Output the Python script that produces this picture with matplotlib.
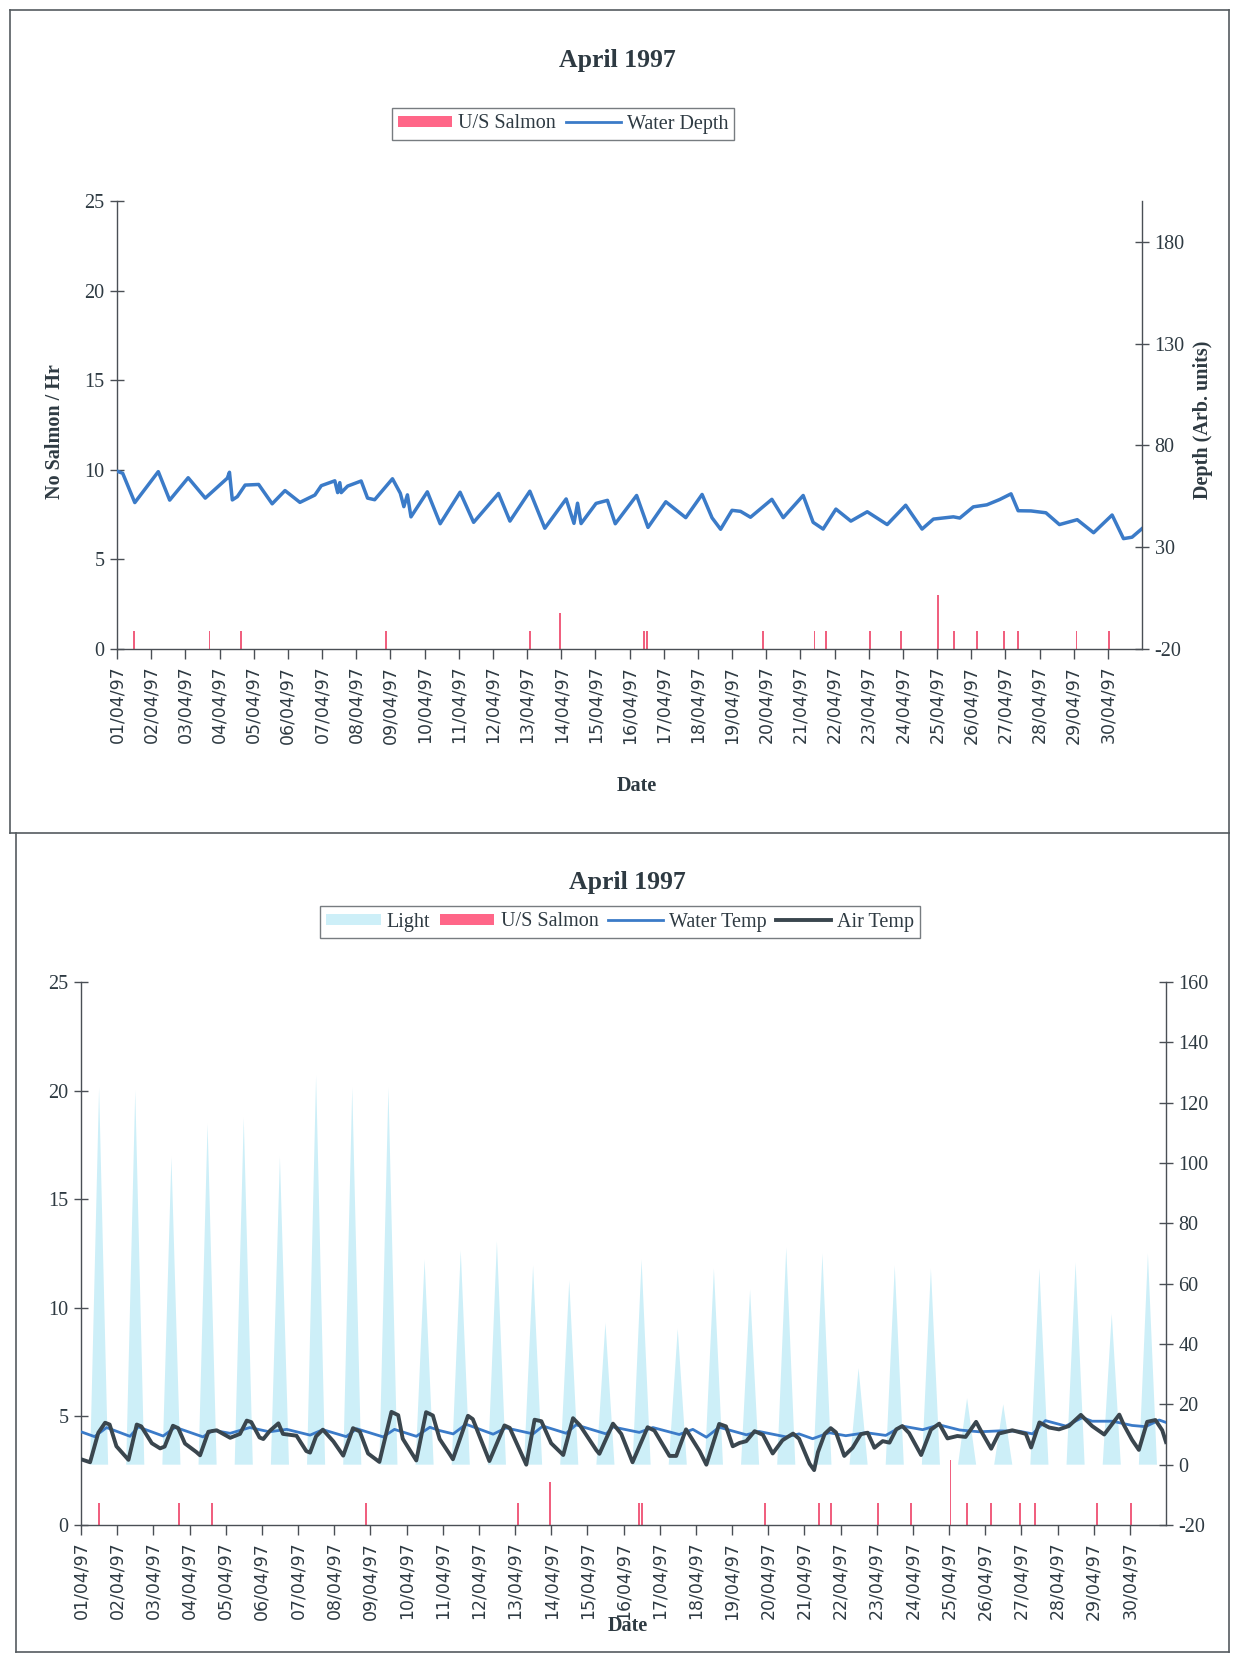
import matplotlib.pyplot as plt
from matplotlib.patches import Patch
from matplotlib.lines import Line2D

plt.rcParams['font.family'] = ['Liberation Serif', 'DejaVu Serif']
plt.rcParams['axes.unicode_minus'] = False

#   Data (hours from 01/04/97 00:00)
DATES = ['%02d/04/97' % d for d in range(1, 31)]

SALMON_HOURS = [12, 65, 87, 189, 290, 311, 370, 372, 454, 490,
                498, 529, 551, 577, 588, 604, 623, 633, 674, 697]
SALMON_COUNT = [1, 1, 1, 1, 1, 2, 1, 1, 1, 1,
                1, 1, 1, 3, 1, 1, 1, 1, 1, 1]

DEPTH_HOURS = [0, 4, 12.5, 29, 37, 50, 62, 77.5, 79, 81, 84.5, 90, 99.5, 109, 118,
               128.5, 139, 143.5, 153, 155, 156.5, 157.5, 162, 171.5, 176, 181,
               193.5, 199, 201.5, 204, 206.5, 218, 227, 241, 250.5, 268, 276, 290,
               300.5, 315.5, 321, 323.5, 326, 336.5, 344.5, 350, 357, 365, 373,
               385.5, 399.5, 411, 418, 424, 432, 438, 445, 460, 468, 482, 489, 496,
               505, 515.5, 527, 541, 554, 565.5, 573.5, 587.5, 592, 601.5, 611,
               620, 628, 633, 642, 652.5, 662, 674.5, 686, 699, 707, 713, 720]
DEPTH = [67.3, 66.3, 51.9, 67.1, 53.1, 64.1, 54.1, 63.9, 66.8, 53.2, 54.8, 60.5,
         60.8, 51.3, 57.8, 52.0, 55.6, 60.2, 62.6, 56.8, 61.7, 56.8, 60.0, 62.5,
         54.1, 53.3, 63.6, 56.5, 49.9, 55.7, 44.9, 57.2, 41.5, 57.0, 42.2, 56.4,
         42.8, 57.5, 39.3, 53.7, 41.7, 51.6, 41.6, 51.5, 53.0, 41.5, 48.0, 55.4,
         39.7, 52.3, 44.5, 55.9, 44.4, 38.8, 48.1, 47.6, 44.7, 53.5, 44.5, 55.4,
         42.2, 38.9, 48.7, 42.8, 47.4, 41.1, 50.6, 38.9, 43.8, 44.9, 44.3, 49.8,
         50.8, 53.4, 56.2, 47.9, 47.8, 46.9, 41.1, 43.5, 37.1, 45.8, 34.2, 34.9,
         39.1]

LIGHT_PEAK = [125, 124, 102, 113, 115, 102, 129, 125, 125, 68,
              71, 74, 66, 61, 47, 68, 45, 65, 58, 72,
              70, 32, 66, 65, 22, 20, 65, 67, 50, 70]
LIGHT_DAWN = 6
LIGHT_NOON = 12
LIGHT_DUSK = 18

AIR_HOURS = [0, 6, 11.5, 16, 19, 23.5, 31.5, 37, 40, 47, 52.5, 55.5, 61, 64.5, 69,
             76.5, 79, 84.5, 90, 99, 105.5, 110, 113, 118.5, 121, 125.5, 131, 134,
             143, 149.5, 152, 156, 160.5, 167.5, 174, 180.5, 185, 190.5, 198, 206,
             210.5, 213.5, 222.5, 229, 233.5, 238, 244.5, 246.8, 256.8, 260, 271,
             281, 284.5, 295.5, 301, 305.5, 312, 320, 326.5, 331, 342, 344, 353,
             358.5, 366, 376, 380.5, 390.5, 395, 401.5, 410.5, 415, 423.5, 428,
             432.5, 437, 441.5, 447, 452.5, 459, 465.5, 472.5, 476.5, 483.5,
             486.5, 489, 493.5, 497.5, 501, 506.5, 512, 517.5, 522, 526.5, 532,
             536.5, 541, 545, 549.5, 557.5, 564, 569.5, 575, 581.5, 587, 594, 597,
             604, 609, 618, 627, 630.5, 636, 642.5, 649, 655.5, 663.5, 671, 679,
             689, 692, 697.5, 702, 707.5, 713, 717.5, 720]
AIR_TEMP = [1.8, 0.8, 10.6, 13.9, 13.3, 6.1, 1.6, 13.3, 12.7, 7.1, 5.4, 6.0, 12.9,
            12.1, 7.0, 4.2, 3.1, 10.9, 11.4, 8.9, 10.2, 14.6, 14.1, 9.0, 8.5, 11.3,
            13.7, 10.2, 9.6, 4.5, 4.0, 9.4, 11.6, 7.7, 3.0, 12.1, 11.0, 3.7, 0.9,
            17.5, 16.4, 8.6, 1.4, 17.4, 16.3, 8.5, 3.6, 1.8, 16.2, 15.1, 1.2, 13.0,
            12.2, 0.0, 14.9, 14.4, 7.1, 3.2, 15.4, 13.1, 4.8, 3.6, 13.6, 10.2, 0.8,
            12.4, 11.3, 2.9, 2.9, 11.7, 4.5, 0.0, 13.5, 12.7, 6.1, 7.2, 7.8, 11.1,
            9.9, 3.7, 8.1, 10.3, 8.6, 0.3, -1.8, 4.1, 10.2, 12.1, 10.7, 2.9, 5.6,
            10.1, 10.6, 5.6, 7.8, 7.3, 11.7, 12.8, 10.5, 3.2, 11.6, 13.6, 8.7, 9.5,
            9.2, 14.2, 11.4, 5.3, 10.3, 11.4, 10.2, 5.7, 14.0, 12.3, 11.7, 12.8,
            16.5, 12.8, 10.0, 16.6, 13.2, 8.2, 4.9, 14.2, 14.8, 11.4, 7.5]

WATER_HOURS = [0, 9, 17, 32.5, 38, 54.5, 62.5, 81, 87.5, 99, 112, 125, 136.5, 152,
               160.5, 176, 183, 200.5, 208, 222.5, 231.5, 238, 247, 255.5, 273.5,
               282, 300, 306.5, 322, 328.5, 348.5, 353, 370.5, 379.5, 397, 406, 415,
               423.5, 441.5, 450, 468, 476.5, 485.5, 496.5, 507.5, 521, 534, 545,
               558.5, 569.5, 583, 596, 609.5, 622.5, 631.5, 640, 653.5, 664.5, 671,
               684.5, 697.5, 706.5, 715.5, 720]
WATER_TEMP = [10.9, 9.3, 12.3, 9.4, 12.5, 9.5, 12.4, 9.2, 11.4, 10.4, 12.3, 10.9,
              11.7, 9.8, 11.6, 9.3, 11.9, 9.2, 11.7, 9.4, 12.4, 11.3, 10.2, 13.4,
              10.1, 12.2, 10.2, 12.8, 10.4, 13.2, 10.2, 12.5, 10.7, 12.3, 10.0, 11.7,
              9.1, 12.4, 9.9, 11.0, 9.2, 10.2, 8.6, 10.6, 9.6, 10.6, 9.7, 12.8, 11.6,
              13.2, 11.5, 10.9, 11.2, 11.1, 10.2, 14.6, 12.8, 15.6, 14.4, 14.4, 13.0,
              12.6, 14.8, 14.0]

#   Styles
W, H = 1233, 1654
TXT = '#2e3a42'
AX_C = '#4a4f55'
SALMON_C = '#f0607f'
LEGEND_SALMON_C = '#ff6688'
LIGHT_C = '#cdeff8'
BLUE_C = '#3b7bc8'
AIR_C = '#3a464e'
FS = 14.5


def fx(x):
    return x / W


def fy(y):
    return 1 - y / H


def frame_line(x0, y0, x1, y1):
    fig.add_artist(Line2D([fx(x0), fx(x1)], [fy(y0), fy(y1)],
                          transform=fig.transFigure, color='#555b60', lw=1.2))


def style_axes(ax, ax2):
    ax.set_xlim(0, 720)
    ax.set_ylim(0, 25)
    ax.set_yticks(range(0, 26, 5))
    ax.set_xticks(range(0, 720, 24))
    ax.set_xticklabels(DATES, rotation=90, family='DejaVu Sans',
                       fontsize=12.5, color=TXT)
    ax.spines['top'].set_visible(False)
    ax.spines['right'].set_visible(False)
    ax2.spines['top'].set_visible(False)
    ax2.spines['left'].set_visible(False)
    ax2.spines['bottom'].set_visible(False)
    for a in (ax, ax2):
        for s in a.spines.values():
            s.set_color(AX_C)
            s.set_linewidth(1.0)
    ax.tick_params(axis='y', direction='inout', length=10, width=1,
                   color=AX_C, labelsize=FS, labelcolor=TXT, pad=4)
    ax2.tick_params(axis='y', direction='inout', length=10, width=1,
                    color=AX_C, labelsize=FS, labelcolor=TXT, pad=4)
    ax.tick_params(axis='x', direction='out', length=7, width=1,
                   color=AX_C, pad=5)
    ax.patch.set_alpha(0)


fig = plt.figure(figsize=(W / 100, H / 100), dpi=100)

# frames
frame_line(10, 10, 1229, 10)
frame_line(10, 10, 10, 833)
frame_line(1229, 10, 1229, 833)
frame_line(10, 833, 1229, 833)
frame_line(16, 833, 16, 1652)
frame_line(1229, 833, 1229, 1652)
frame_line(16, 1652, 1229, 1652)

# ---- Top chart: salmon + water depth
ax = fig.add_axes([fx(117), fy(649), fx(1142) - fx(117), fy(201) - fy(649)])
ax2 = ax.twinx()
ax.bar(SALMON_HOURS, SALMON_COUNT, width=1.3, color=SALMON_C, lw=0)
ax2.plot(DEPTH_HOURS, DEPTH, color=BLUE_C, lw=2.5, solid_joinstyle='round')
style_axes(ax, ax2)
ax2.set_ylim(-20, 200)
ax2.set_yticks([-20, 30, 80, 130, 180])

fig.text(fx(617), fy(60), 'April 1997', ha='center', va='center',
         fontsize=18.5, fontweight='bold', color=TXT)
fig.text(fx(55), fy(432), 'No Salmon / Hr', rotation=90, ha='center',
         va='center', fontsize=FS, fontweight='bold', color=TXT)
fig.text(fx(1203), fy(420), 'Depth (Arb. units)', rotation=90, ha='center',
         va='center', fontsize=FS, fontweight='bold', color=TXT)
fig.text(fx(637), fy(786), 'Date', ha='center', va='center',
         fontsize=FS, fontweight='bold', color=TXT)

h1 = [Patch(facecolor=LEGEND_SALMON_C, edgecolor='none'),
      Line2D([], [], color=BLUE_C, lw=2)]
leg = fig.legend(h1, ['U/S Salmon', 'Water Depth'], loc='center',
                 bbox_to_anchor=(fx(563), fy(124)), ncol=2, fontsize=FS,
                 frameon=True, fancybox=False, edgecolor='#555b60',
                 handlelength=2.7, handleheight=0.45, handletextpad=0.3,
                 columnspacing=0.5, borderpad=0.3, labelcolor=TXT)
leg.get_frame().set_linewidth(1.0)

# ---- Bottom chart: light, salmon, water temp, air temp
bx = fig.add_axes([fx(81), fy(1525), fx(1166) - fx(81), fy(982) - fy(1525)])
bx2 = bx.twinx()
for d, peak in enumerate(LIGHT_PEAK):
    bx2.fill([d * 24 + LIGHT_DAWN, d * 24 + LIGHT_NOON, d * 24 + LIGHT_DUSK],
             [0, peak, 0], color=LIGHT_C, lw=0, zorder=1)
bx.bar(SALMON_HOURS, SALMON_COUNT, width=1.3, color=SALMON_C, lw=0)
bx2.plot(WATER_HOURS, WATER_TEMP, color=BLUE_C, lw=2.0, zorder=3)
bx2.plot(AIR_HOURS, AIR_TEMP, color=AIR_C, lw=2.8, zorder=4,
         solid_joinstyle='round')
style_axes(bx, bx2)
bx2.set_ylim(-20, 160)
bx2.set_yticks(range(-20, 161, 20))

fig.text(fx(627), fy(882), 'April 1997', ha='center', va='center',
         fontsize=18.5, fontweight='bold', color=TXT)
fig.text(fx(628), fy(1626), 'Date', ha='center', va='center',
         fontsize=FS, fontweight='bold', color=TXT)

h2 = [Patch(facecolor=LIGHT_C, edgecolor='none'),
      Patch(facecolor=LEGEND_SALMON_C, edgecolor='none'),
      Line2D([], [], color=BLUE_C, lw=2),
      Line2D([], [], color=AIR_C, lw=2.8)]
leg2 = fig.legend(h2, ['Light', 'U/S Salmon', 'Water Temp', 'Air Temp'],
                  loc='center', bbox_to_anchor=(fx(620), fy(922)), ncol=4,
                  fontsize=FS, frameon=True, fancybox=False,
                  edgecolor='#555b60', handlelength=2.7, handleheight=0.45,
                  handletextpad=0.3, columnspacing=0.5, borderpad=0.3,
                  labelcolor=TXT)
leg2.get_frame().set_linewidth(1.0)

fig.savefig('out.png', dpi=100)
